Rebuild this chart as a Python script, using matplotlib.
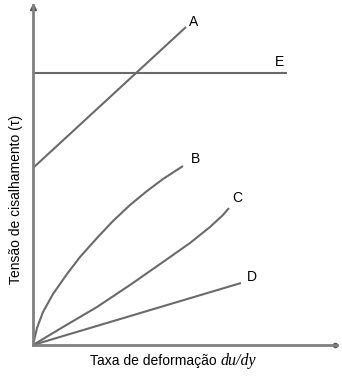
import matplotlib.pyplot as plt

plt.rcParams['font.family'] = ['Liberation Sans', 'DejaVu Sans']

# curves (arbitrary units)
a_x = [0, 153]
a_y = [177, 318]
e_x = [0, 254]
e_y = [272, 272]
b_x = [0, 4, 10, 20, 34, 47, 64, 80, 97, 114, 130, 150]
b_y = [0, 17, 33, 51, 71, 88, 107, 124, 140, 154, 166, 179]
c_x = [0, 30, 64, 97, 130, 157, 177, 190, 196]
c_y = [0, 18, 38, 60, 83, 102, 118, 130, 137]
d_x = [0, 208]
d_y = [0, 62]

curves = [('A', a_x, a_y, (8, 5)),
          ('E', e_x, e_y, (-8, 11)),
          ('B', b_x, b_y, (13, 7)),
          ('C', c_x, c_y, (8, 10)),
          ('D', d_x, d_y, (11, 6))]

fig = plt.figure(figsize=(3.42, 3.76), dpi=100)
ax = fig.add_axes([33 / 342, 31 / 376, 304 / 342, 340 / 376])

line_color = '#6a6a6a'
for name, xs, ys, off in curves:
    ax.plot(xs, ys, color=line_color, lw=1.5, solid_capstyle='butt',
            solid_joinstyle='round')
    ax.annotate(name, (xs[-1], ys[-1]), xytext=off, textcoords='offset pixels',
                ha='center', va='center', fontsize=10)

ax.set_xlim(0, 304)
ax.set_ylim(0, 340)
for s in ['top', 'right']:
    ax.spines[s].set_visible(False)
for s in ['left', 'bottom']:
    ax.spines[s].set_color('#808080')
    ax.spines[s].set_linewidth(2)
ax.set_xticks([])
ax.set_yticks([])

# arrow ends of the axes
ax.plot([0], [338], marker='^', ms=5, color='#555555', clip_on=False)
ax.plot([302], [0], marker='o', ms=3, color='#555555', clip_on=False)

fig.text(220 / 342, 1 - 361 / 376, 'Taxa de deformação ',
         ha='right', va='center', fontsize=10)
fig.text(221 / 342, 1 - 361 / 376, 'du/dy', family='Liberation Serif',
         style='italic', ha='left', va='center', fontsize=11.5)
fig.text(16 / 342, 1 - 199 / 376, 'Tensão de cisalhamento (τ)',
         ha='center', va='center', fontsize=10, rotation=90)

fig.savefig('out.png', dpi=100)
